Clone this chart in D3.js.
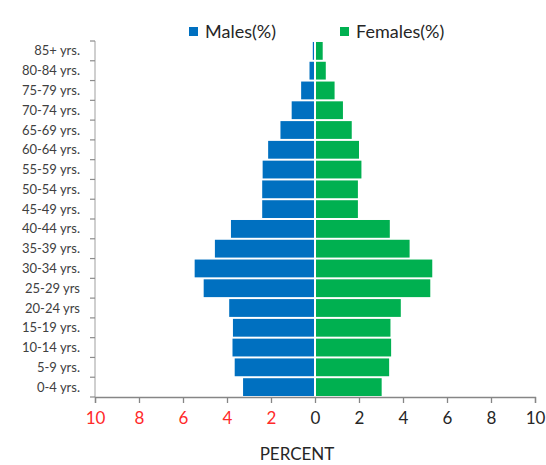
<!DOCTYPE html>
<html><head><meta charset="utf-8">
<script src="https://cdn.jsdelivr.net/npm/d3@7"></script>
<style>body{margin:0;background:#fff}svg{display:block}</style>
</head><body>
<svg id="c" width="546" height="465"></svg>
<script>
const ageGroups = ["85+ yrs.","80-84 yrs.","75-79 yrs.","70-74 yrs.","65-69 yrs.","60-64 yrs.","55-59 yrs.","50-54 yrs.","45-49 yrs.","40-44 yrs.","35-39 yrs.","30-34 yrs.","25-29 yrs","20-24 yrs","15-19 yrs.","10-14 yrs.","5-9 yrs.","0-4 yrs."];
const males   = [0.10,0.25,0.63,1.06,1.57,2.13,2.38,2.40,2.40,3.82,4.55,5.47,5.06,3.90,3.73,3.75,3.65,3.27];
const females = [0.35,0.49,0.89,1.27,1.67,2.00,2.11,1.95,1.95,3.40,4.30,5.33,5.24,3.90,3.43,3.46,3.37,3.03];
const xTicks = [-10,-8,-6,-4,-2,0,2,4,6,8,10];
const seriesNames = ["Males(%)","Females(%)"];
const colors = ["#0070C0","#00B050"];

const svg = d3.select("#c");
const font = "Lato, 'Open Sans', sans-serif";
const x = d3.scaleLinear().domain([-10,10]).range([95,535]);
const y = d3.scaleBand().domain(ageGroups).range([41,397]).paddingInner(0.1).paddingOuter(0.05);
const yb = d3.scaleBand().domain(ageGroups).range([41,397]);

// bars
const g = svg.append("g");
g.selectAll("rect.m").data(ageGroups).join("rect")
  .attr("x", (d,i)=>x(-males[i])).attr("width",(d,i)=>x(0)-x(-males[i])-1)
  .attr("y", d=>y(d)).attr("height", y.bandwidth()).attr("fill", colors[0]);
g.selectAll("rect.f").data(ageGroups).join("rect")
  .attr("x", x(0)+1).attr("width",(d,i)=>x(females[i])-x(0)-1)
  .attr("y", d=>y(d)).attr("height", y.bandwidth()).attr("fill", colors[1]);

// y axis
const ya = svg.append("g");
ya.append("line").attr("x1",95).attr("x2",95).attr("y1",41).attr("y2",397).attr("stroke","#bfbfbf").attr("stroke-width",1.5);
const bounds = ageGroups.map(d=>yb(d)).concat([397]);
ya.selectAll("line.t").data(bounds).join("line")
  .attr("x1",90).attr("x2",95).attr("y1",d=>d).attr("y2",d=>d).attr("stroke","#8c8c8c").attr("stroke-width",1.2);
ya.selectAll("text").data(ageGroups).join("text")
  .attr("x",80).attr("y",d=>yb(d)+yb.bandwidth()/2).attr("dy","0.35em")
  .attr("text-anchor","end").attr("font-family",font).attr("font-size",13).attr("fill","#404040").text(d=>d);

// x axis
const xa = svg.append("g").attr("transform","translate(0,397)")
  .call(d3.axisBottom(x).tickValues(xTicks).tickSize(6).tickPadding(9).tickFormat(d=>Math.abs(d)));
xa.select(".domain").attr("stroke","#868686").attr("stroke-width",1.3);
xa.selectAll(".tick line").attr("stroke","#868686").attr("stroke-width",1.3);
xa.selectAll(".tick text").attr("font-family",font).attr("font-size",17)
  .attr("fill",d=>d<0?"#ff2a2a":"#262626");

svg.append("text").attr("x",297).attr("y",460).attr("text-anchor","middle")
  .attr("font-family",font).attr("font-size",17).attr("fill","#262626").text("PERCENT");

// legend
const lx = [189,340];
seriesNames.forEach((n,i)=>{
  svg.append("rect").attr("x",lx[i]).attr("y",27).attr("width",9).attr("height",9).attr("fill",colors[i]);
  svg.append("text").attr("x",lx[i]+16).attr("y",38).attr("font-family",font).attr("font-size",18)
    .attr("fill","#262626").text(n);
});
</script>
</body></html>
